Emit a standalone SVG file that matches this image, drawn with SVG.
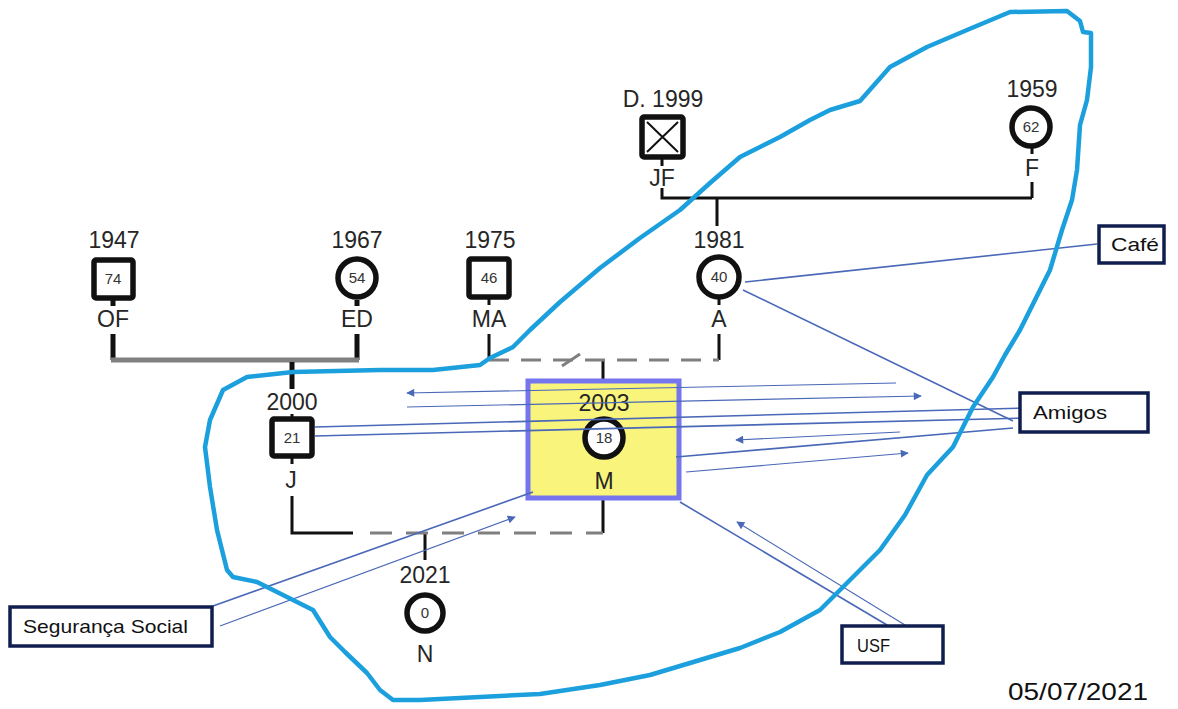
<svg xmlns="http://www.w3.org/2000/svg" width="1178" height="709" viewBox="0 0 1178 709">
<style>
.yr{font-family:"Liberation Sans",Arial,sans-serif;font-size:23px;fill:#262626;text-anchor:middle}
.nm{font-family:"Liberation Sans",Arial,sans-serif;font-size:23px;fill:#262626;text-anchor:middle}
.age{font-family:"Liberation Sans",Arial,sans-serif;font-size:15px;fill:#333;text-anchor:middle}
.sq{fill:#fff;stroke:#111;stroke-width:5.5}
.ci{fill:#fff;stroke:#111;stroke-width:5.5}
.stem{stroke:#111;stroke-width:3;fill:none}
.stemb{stroke:#111;stroke-width:5;fill:none}
.gl{stroke:#7f7f7f;stroke-width:3;fill:none}
.con{stroke:#4A68B8;stroke-width:1.6;fill:none}
.conT{stroke:#4A68B8;stroke-width:1.1;fill:none}
.box{fill:#fff;stroke:#0F1E4E;stroke-width:3.5}
.bt{font-family:"Liberation Sans",Arial,sans-serif;font-size:19px;fill:#111}
</style>
<defs>
<marker id="ah" viewBox="0 0 10 10" refX="9" refY="5" markerWidth="12" markerHeight="8" markerUnits="userSpaceOnUse" orient="auto"><path d="M0,0 L10,5 L0,10 z" fill="#4A68B8"/></marker>
</defs>
<rect width="1178" height="709" fill="#fff"/>
<g id="genogram-lines">
<path class="stem" d="M662,158 V166 M662,188 V198 H1032 M1032,148 V154 M1032,182 V198 M717,198 V226"/>
<path class="stem" d="M719,299 V305 M719,334 V360 M489,298 V305 M489,334 V360 M603,360 V381"/>
<path class="gl" d="M489,360 H719" stroke-dasharray="20 12"/>
<path class="gl" d="M562,366 L580,354"/>
<path class="stemb" d="M113,300 V306 M113,334 V360 M357,300 V306 M357,334 V360"/>
<path d="M111,360 H359" stroke="#808080" stroke-width="5" fill="none"/>
<path class="stemb" d="M292,362 V389"/>
<path class="stem" d="M292,414 V418 M292,458 V464 M292,496 V533 H353 M603,500 V533 M425,533 V560"/>
<path class="gl" d="M370,533 H603" stroke-dasharray="22 14"/>
</g>
<g id="node-JF">
<text class="yr" x="663" y="107">D. 1999</text>
<rect class="sq" x="642" y="117" width="41" height="40" rx="2"/>
<path d="M647,122 L678,152 M678,122 L647,152" stroke="#111" stroke-width="2"/>
<text class="nm" x="662" y="186">JF</text>
</g>
<g id="node-F">
<text class="yr" x="1032" y="97">1959</text>
<circle class="ci" cx="1031" cy="127" r="19"/>
<text class="age" x="1031" y="132">62</text>
<text class="nm" x="1032" y="176">F</text>
</g>
<g id="node-OF">
<text class="yr" x="114" y="248">1947</text>
<rect class="sq" x="94" y="260" width="39" height="38" rx="2"/>
<text class="age" x="113" y="284">74</text>
<text class="nm" x="113" y="327">OF</text>
</g>
<g id="node-ED">
<text class="yr" x="357" y="248">1967</text>
<circle class="ci" cx="357" cy="278" r="19"/>
<text class="age" x="357" y="283">54</text>
<text class="nm" x="357" y="327">ED</text>
</g>
<g id="node-MA">
<text class="yr" x="490" y="248">1975</text>
<rect class="sq" x="469" y="259" width="40" height="38" rx="2"/>
<text class="age" x="489" y="283">46</text>
<text class="nm" x="489" y="327">MA</text>
</g>
<g id="node-A">
<text class="yr" x="719" y="248">1981</text>
<circle class="ci" cx="719" cy="277" r="20"/>
<text class="age" x="719" y="282">40</text>
<text class="nm" x="719" y="327">A</text>
</g>
<g id="node-J">
<text class="yr" x="292" y="410">2000</text>
<rect class="sq" x="272" y="419" width="40" height="37" rx="2"/>
<text class="age" x="292" y="443">21</text>
<text class="nm" x="291" y="488">J</text>
</g>
<g id="node-M">
<rect x="528" y="381" width="151" height="117" fill="#F8F47C" stroke="#7575EE" stroke-width="5"/>
<text class="yr" x="604" y="411">2003</text>
<circle class="ci" cx="604" cy="438" r="19"/>
<text class="age" x="604" y="443">18</text>
<text class="nm" x="604" y="489">M</text>
</g>
<g id="node-N">
<text class="yr" x="425" y="583">2021</text>
<circle class="ci" cx="425" cy="613" r="18"/>
<text class="age" x="425" y="618">0</text>
<text class="nm" x="425" y="662">N</text>
</g>
<g id="connectors">
<path class="con" d="M745,282 L1097,244"/>
<path class="con" d="M743,290 L1013,421"/>
<path class="con" d="M315,427 L1025,408"/>
<path class="con" d="M315,436 L1025,418"/>
<path class="con" d="M676,457 L1013,428"/>
<path class="conT" d="M896,383 L407,393" marker-end="url(#ah)"/>
<path class="conT" d="M407,407 L921,396" marker-end="url(#ah)"/>
<path class="conT" d="M900,432 L736,440" marker-end="url(#ah)"/>
<path class="conT" d="M686,472 L908,453" marker-end="url(#ah)"/>
<path class="con" d="M213,606 L533,492"/>
<path class="conT" d="M220,626 L515,517" marker-end="url(#ah)"/>
<path class="con" d="M680,502 L887,625"/>
<path class="conT" d="M905,625 L737,522" marker-end="url(#ah)"/>
</g>
<g id="outline">
<path d="M1010,12 L1067,11 L1080,21 L1083,32 L1091,33 L1091,67 L1087,100 L1080,125 L1077,170 L1072,200 L1062,230 L1050,270 L1035,300 L1020,330 L1005,355 L993,377 L973,407 L953,447 L927,475 L905,515 L880,550 L850,580 L820,610 L780,632 L740,648 L700,660 L650,675 L600,685 L540,694 L480,697 L420,700 L393,700 L380,690 L367,673 L345,652 L330,637 L313,610 L293,600 L257,582 L233,577 L227,570 L217,530 L210,487 L205,447 L210,420 L223,390 L247,377 L293,372 L380,370 L433,370 L480,365 L490,358 L513,347 L530,330 L560,302 L600,268 L640,238 L680,210 L710,183 L740,157 L780,137 L810,120 L830,110 L860,101 L890,67 L927,47 L967,30 Z" fill="none" stroke="#1C9FDD" stroke-width="4.5" stroke-linejoin="round"/>
</g>
<g id="box-cafe">
<rect class="box" x="1099" y="226" width="65" height="37"/>
<text class="bt" x="1111" y="251" textLength="48" lengthAdjust="spacingAndGlyphs">Café</text>
</g>
<g id="box-amigos">
<rect class="box" x="1020" y="393" width="128" height="39"/>
<text class="bt" x="1033" y="419" textLength="74" lengthAdjust="spacingAndGlyphs">Amigos</text>
</g>
<g id="box-ss">
<rect class="box" x="10" y="607" width="202" height="39"/>
<text class="bt" x="23" y="633" textLength="165" lengthAdjust="spacingAndGlyphs">Segurança Social</text>
</g>
<g id="box-usf">
<rect class="box" x="842" y="626" width="101" height="37"/>
<text class="bt" x="857" y="652" textLength="33" lengthAdjust="spacingAndGlyphs">USF</text>
</g>
<text x="1008" y="700" font-family="Liberation Sans, Arial, sans-serif" font-size="24" fill="#111" textLength="140" lengthAdjust="spacingAndGlyphs">05/07/2021</text>
</svg>
